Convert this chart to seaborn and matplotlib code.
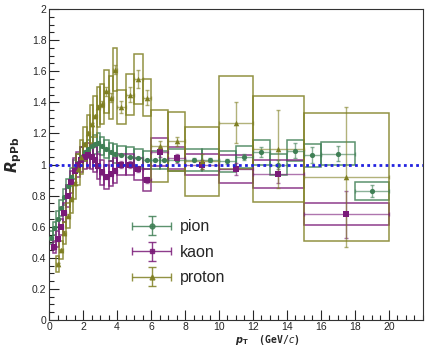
import numpy as np
import matplotlib
matplotlib.use("Agg")
import matplotlib.pyplot as plt
from matplotlib.patches import Rectangle
from matplotlib.container import ErrorbarContainer
from matplotlib.legend_handler import HandlerErrorbar
from matplotlib.ticker import MultipleLocator
import seaborn as sns

# pion
pi_x = [0.1, 0.3, 0.5, 0.7, 0.9, 1.1, 1.3, 1.5, 1.7, 1.9, 2.1, 2.3, 2.5, 2.7, 2.9,
        3.125, 3.375, 3.625, 3.875, 4.25, 4.75, 5.25, 5.75, 6.25, 6.75,
        7.5, 8.5, 9.5, 10.5, 11.5, 12.5, 13.5, 14.5, 15.5, 17, 19]
pi_xw = [0.1] * 15 + [0.125] * 4 + [0.25] * 6 + [0.5] * 9 + [1, 1]
pi_y = [0.53, 0.59, 0.65, 0.72, 0.79, 0.86, 0.92, 0.97, 1.01, 1.05, 1.08, 1.10, 1.12, 1.13, 1.14,
        1.12, 1.10, 1.08, 1.07, 1.06, 1.05, 1.04, 1.03, 1.03, 1.03,
        1.03, 1.03, 1.03, 1.02, 1.05, 1.08, 1.00, 1.09, 1.06, 1.07, 0.83]
pi_stat = [0.005] * 25 + [0.01, 0.01, 0.015, 0.015, 0.02, 0.03, 0.03, 0.05, 0.05, 0.05, 0.04]
pi_sys = [0.04, 0.04, 0.05, 0.05, 0.05, 0.05, 0.06, 0.06, 0.06, 0.06, 0.06, 0.06, 0.06, 0.06, 0.06,
          0.06, 0.06, 0.06, 0.06, 0.06, 0.06, 0.06, 0.06, 0.06, 0.06,
          0.07, 0.07, 0.07, 0.07, 0.07, 0.08, 0.07, 0.07, 0.075, 0.075, 0.055]

# kaon
k_x = [0.3, 0.5, 0.7, 0.9, 1.1, 1.3, 1.5, 1.7, 1.9, 2.1, 2.3, 2.5, 2.7, 2.9,
       3.125, 3.375, 3.625, 3.875, 4.25, 4.75, 5.25, 5.75, 6.5, 7.5, 9, 11, 13.5, 17.5]
k_xw = [0.1] * 14 + [0.125] * 4 + [0.25] * 4 + [0.5, 0.5, 1, 1, 1.5, 2.5]
k_y = [0.47, 0.52, 0.60, 0.69, 0.80, 0.89, 0.96, 1.00, 1.03, 1.05, 1.06, 1.05, 1.03, 0.99,
       0.95, 0.92, 0.94, 0.96, 1.00, 1.00, 0.97, 0.90, 1.08, 1.04, 1.00, 0.97, 0.94, 0.68]
k_stat = [0.01] * 14 + [0.015] * 4 + [0.02] * 4 + [0.03, 0.03, 0.03, 0.04, 0.06, 0.15]
k_sys = [0.04, 0.05, 0.05, 0.06, 0.07, 0.07, 0.08, 0.08, 0.08, 0.08, 0.08, 0.08, 0.08, 0.08,
         0.08, 0.08, 0.08, 0.08, 0.07, 0.07, 0.07, 0.07, 0.09, 0.07, 0.07, 0.09, 0.09, 0.07]

# proton
p_x = [0.5, 0.7, 0.9, 1.1, 1.3, 1.5, 1.7, 1.9, 2.1, 2.3, 2.5, 2.7, 2.9,
       3.125, 3.375, 3.625, 3.875, 4.25, 4.75, 5.25, 5.75, 6.5, 7.5, 9, 11, 13.5, 17.5]
p_xw = [0.1] * 13 + [0.125] * 4 + [0.25] * 4 + [0.5, 0.5, 1, 1, 1.5, 2.5]
p_y = [0.36, 0.45, 0.56, 0.67, 0.78, 0.88, 0.97, 1.05, 1.13, 1.20, 1.26, 1.31, 1.37,
       1.39, 1.47, 1.43, 1.61, 1.37, 1.45, 1.55, 1.43, 1.12, 1.15, 1.02, 1.27, 1.10, 0.92]
p_stat = [0.01] * 13 + [0.02, 0.03, 0.03, 0.03, 0.04, 0.05, 0.06, 0.05,
                        0.03, 0.03, 0.05, 0.13, 0.25, 0.45]
p_sys = [0.05, 0.06, 0.07, 0.08, 0.09, 0.10, 0.10, 0.11, 0.11, 0.12, 0.12, 0.13, 0.13,
         0.13, 0.14, 0.14, 0.14, 0.11, 0.13, 0.16, 0.12, 0.23, 0.19, 0.22, 0.30, 0.34, 0.41]

species = [
    ("pion", pi_x, pi_xw, pi_y, pi_stat, pi_sys, "#3f7f55", "o", 14),
    ("kaon", k_x, k_xw, k_y, k_stat, k_sys, "#7a1a78", "s", 16),
    ("proton", p_x, p_xw, p_y, p_stat, p_sys, "#7f7f22", "^", 16),
]

sns.set_style("ticks")
plt.rcParams["font.family"] = ["Liberation Sans", "DejaVu Sans"]

fig = plt.figure(figsize=(4.31, 3.46), dpi=100)
ax = fig.add_axes([0.114, 0.075, 0.867, 0.899])

handles = []
for name, x, xw, y, stat, sys_, color, marker, size in species:
    # systematic boxes
    for xi, wi, yi, si in zip(x, xw, y, sys_):
        ax.add_patch(Rectangle((xi - wi, yi - si), 2 * wi, 2 * si, fill=False,
                               edgecolor=color, lw=1.1, alpha=0.85, zorder=2))
    # statistical errors
    ax.errorbar(x, y, xerr=xw, yerr=stat, fmt="none", ecolor=color,
                elinewidth=1.0, capsize=1.5, alpha=0.6, zorder=3)
    sns.scatterplot(x=x, y=y, ax=ax, color=color, marker=marker, s=size,
                    edgecolor=color, linewidth=0, legend=False, zorder=4)
    # legend handle (nothing drawn)
    h = ax.errorbar([np.nan], [np.nan], xerr=[1], yerr=[1], fmt=marker, color=color,
                    markersize=3.5, ecolor=color, elinewidth=1.0, capsize=3, alpha=0.85)
    handles.append(h)

ax.axhline(1.0, color="#2323e0", ls=(0, (1, 1.2)), lw=2, zorder=5)

ax.set_xlim(0, 22)
ax.set_ylim(0, 2)
ax.xaxis.set_minor_locator(MultipleLocator(0.5))
ax.yaxis.set_minor_locator(MultipleLocator(0.05))
ax.tick_params(which="both", direction="in", top=False, right=False, labelsize=7.5, pad=2)
ax.tick_params(axis="x", pad=1.5)
ax.tick_params(which="major", length=7, width=0.8)
ax.tick_params(which="minor", length=3.5, width=0.8)
ax.set_yticks(np.arange(0, 2.01, 0.2))
ax.set_yticklabels(["0", "0.2", "0.4", "0.6", "0.8", "1", "1.2", "1.4", "1.6", "1.8", "2"])
ax.set_xticks(np.arange(0, 21, 2))
for sp in ax.spines.values():
    sp.set_linewidth(0.8)
    sp.set_color("#333333")

ax.set_ylabel(r"$\mathbfit{R}_{\mathbf{pPb}}$", fontsize=11)
ax.yaxis.set_label_coords(-0.068, 0.53)
ax.set_xlabel(r"$\mathbfit{p}_{\mathbf{T}}$  (GeV/$\mathit{c}$)", fontsize=7,
              family="DejaVu Sans Mono", fontweight="bold")
ax.xaxis.set_label_coords(0.585, -0.042)

ax.legend(handles, ["pion", "kaon", "proton"],
          handler_map={ErrorbarContainer: HandlerErrorbar(xerr_size=1.2, yerr_size=0.6)},
          loc="upper left", bbox_to_anchor=(0.18, 0.37), frameon=False,
          fontsize=11.5, handlelength=2.6, labelspacing=0.65, handletextpad=0.5,
          numpoints=1)

fig.savefig("out.png", dpi=100)
